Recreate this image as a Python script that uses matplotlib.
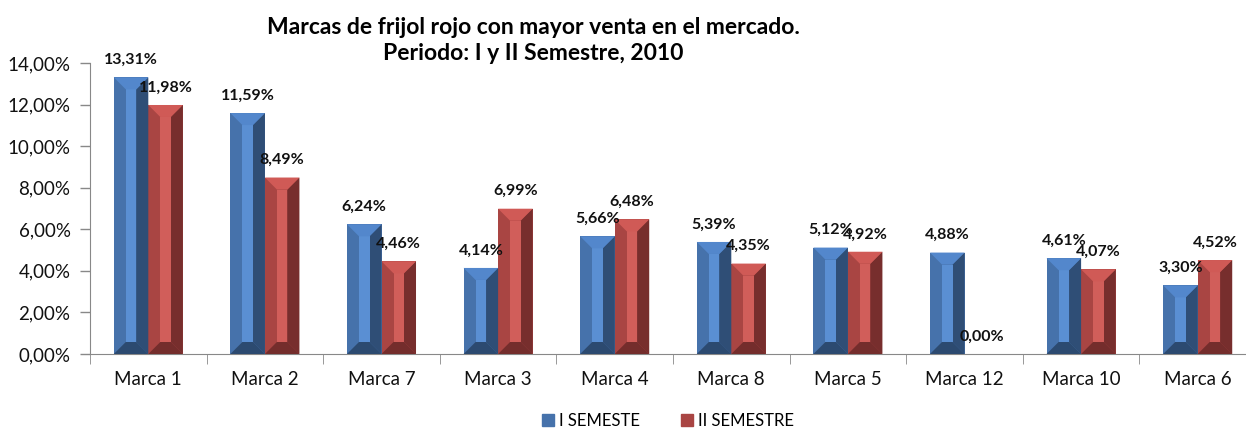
import matplotlib
matplotlib.use("Agg")
import matplotlib.pyplot as plt
import numpy as np
from matplotlib.patches import Polygon, Rectangle
from matplotlib.ticker import FuncFormatter, FixedLocator

marcas = ["Marca 1", "Marca 2", "Marca 7", "Marca 3", "Marca 4",
          "Marca 8", "Marca 5", "Marca 12", "Marca 10", "Marca 6"]
sem1 = [13.31, 11.59, 6.24, 4.14, 5.66, 5.39, 5.12, 4.88, 4.61, 3.30]
sem2 = [11.98, 8.49, 4.46, 6.99, 6.48, 4.35, 4.92, 0.00, 4.07, 4.52]
series_names = ["I SEMESTE", "II SEMESTRE"]

# face colours: base(left), center, right, top, bottom
blue = dict(base="#4672ab", center="#5a8fd3", right="#2f4e76", top="#5387cc", bottom="#2c4a70")
red = dict(base="#a94543", center="#d15e5a", right="#772e2d", top="#d05a56", bottom="#742d2c")

plt.rcParams['font.family'] = ['Lato', 'DejaVu Sans']

fig = plt.figure(figsize=(12.46, 4.29), dpi=100)
W, H = 1246, 429
ax = fig.add_axes([90 / W, 75 / H, (W - 90) / W, 291 / H])

x = np.arange(len(marcas))
w = 0.296
ax.set_xlim(-0.5, -0.5 + 1156 / 116.6)
ax.set_ylim(0, 14)

b1 = ax.bar(x - w / 2, sem1, w, color=blue["base"], zorder=2)
b2 = ax.bar(x + w / 2, sem2, w, color=red["base"], zorder=2)

# bevel size in pixels converted to data units
px_x = 116.6
px_y = 291 / 14.0
bev = 12.0
bx = bev / px_x
by = bev / px_y


def bevel(bars, c):
    for r in bars:
        x0 = r.get_x()
        x1 = x0 + r.get_width()
        h = r.get_height()
        if h <= 0:
            continue
        dy = min(by, h / 2)
        ax.add_patch(Polygon([(x1 - bx, dy), (x1, 0), (x1, h), (x1 - bx, h - dy)],
                             closed=True, color=c["right"], lw=0, zorder=3))
        ax.add_patch(Rectangle((x0 + bx, dy), x1 - x0 - 2 * bx, h - 2 * dy,
                               color=c["center"], lw=0, zorder=3))
        ax.add_patch(Polygon([(x0, h), (x1, h), (x1 - bx, h - dy), (x0 + bx, h - dy)],
                             closed=True, color=c["top"], lw=0, zorder=3))
        ax.add_patch(Polygon([(x0, 0), (x1, 0), (x1 - bx, dy), (x0 + bx, dy)],
                             closed=True, color=c["bottom"], lw=0, zorder=3))


bevel(b1, blue)
bevel(b2, red)

fmt = lambda v: ("%.2f%%" % v).replace(".", ",")
for bars, vals in ((b1, sem1), (b2, sem2)):
    for r, v in zip(bars, vals):
        ax.annotate(fmt(v), (r.get_x() + r.get_width() / 2, v), xytext=(0, 7.5),
                    textcoords="offset points", ha="center", va="bottom",
                    fontsize=11.5, fontweight="bold", color="#111111", zorder=5)

ax.yaxis.set_major_formatter(FuncFormatter(lambda v, p: fmt(v)))
ax.set_yticks(np.arange(0, 15, 2))
ax.set_xticks(x)
ax.set_xticklabels(marcas)
ax.xaxis.set_minor_locator(FixedLocator(np.arange(-0.5, 10, 1)))
ax.tick_params(axis="x", which="major", length=0, pad=12, labelsize=13.5, colors="#111111")
ax.tick_params(axis="x", which="minor", length=7, color="#888888")
ax.tick_params(axis="y", length=7, width=1, color="#888888", pad=7, labelsize=13.5, labelcolor="#111111")

for s in ("top", "right"):
    ax.spines[s].set_visible(False)
for s in ("left", "bottom"):
    ax.spines[s].set_color("#888888")

fig.text(533 / W, 1 - 27 / H, "Marcas de frijol rojo con mayor venta en el mercado.",
         ha="center", va="center", fontsize=16.5, fontweight="bold")
fig.text(533 / W, 1 - 53 / H, "Periodo: I y II Semestre, 2010",
         ha="center", va="center", fontsize=16.5, fontweight="bold")

handles = [Rectangle((0, 0), 1, 1, color=blue["base"]), Rectangle((0, 0), 1, 1, color=red["base"])]
fig.legend(handles, series_names, loc="lower center", bbox_to_anchor=(668 / W, -0.035),
           ncol=2, frameon=False, fontsize=12, handlelength=0.7, handleheight=0.7,
           handletextpad=0.3, columnspacing=2.5)

fig.savefig("out.png", dpi=100)
